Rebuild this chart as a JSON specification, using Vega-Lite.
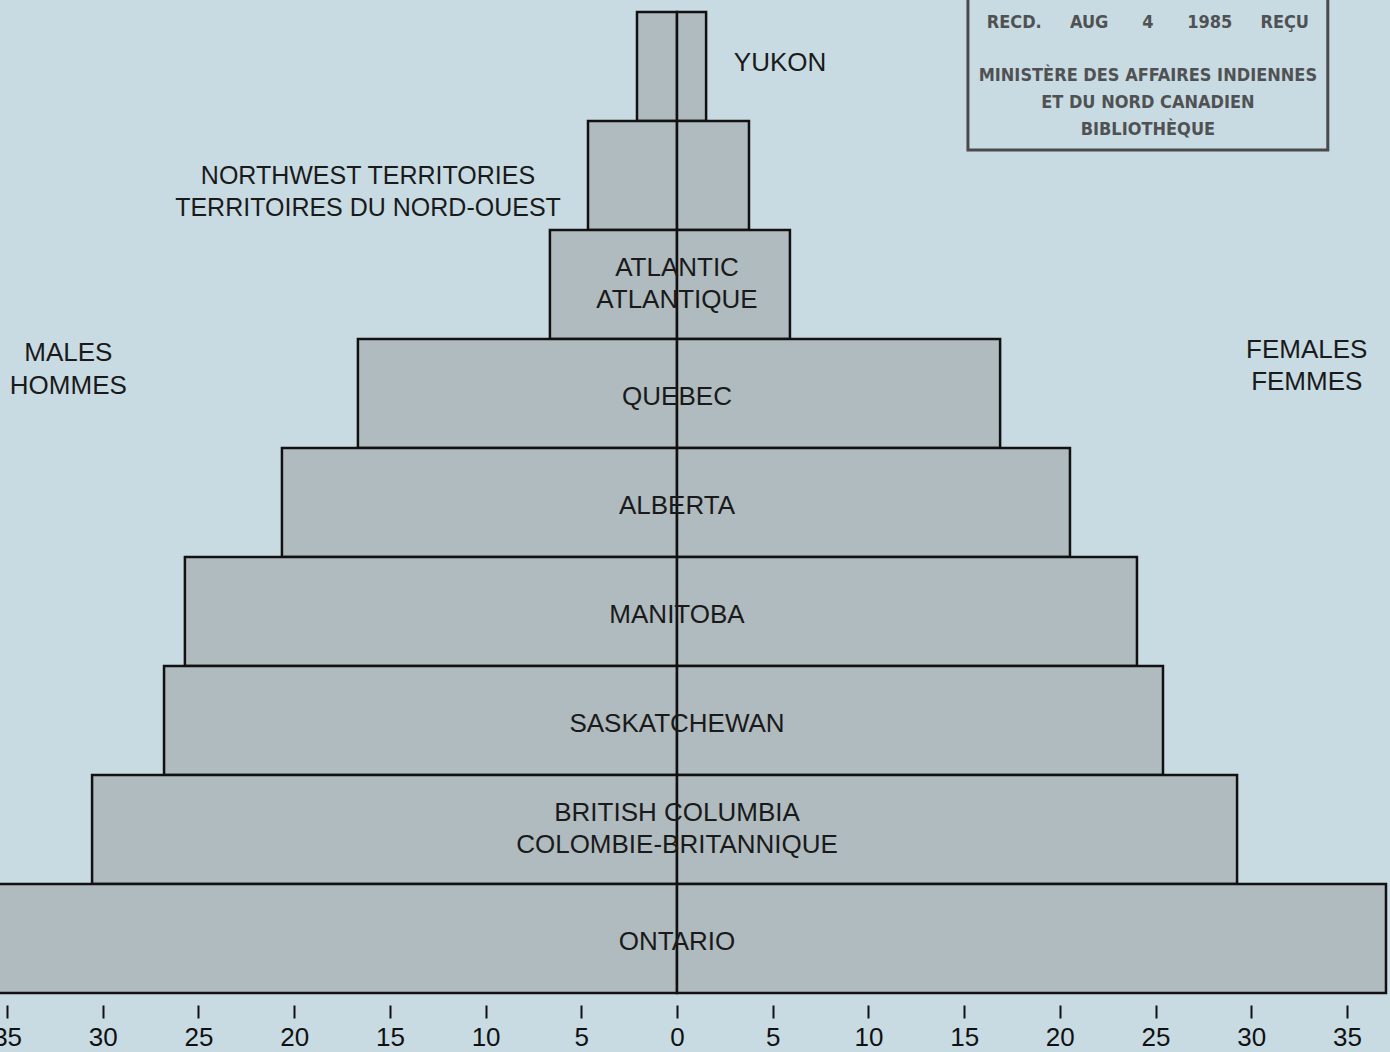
{
  "$schema": "https://vega.github.io/schema/vega-lite/v6.json",
  "width": 1390,
  "height": 981,
  "autosize": {"type": "none"},
  "padding": {"top": 12, "left": 0, "right": 0, "bottom": 59},
  "background": "#c8dbe3",
  "config": {"view": {"stroke": null}, "font": "Liberation Sans"},
  "datasets": {
    "pop": [
      {"region": "Yukon", "sex": "Males", "value": -2.09},
      {"region": "Yukon", "sex": "Females", "value": 1.52},
      {"region": "Northwest Territories", "sex": "Males", "value": -4.65},
      {"region": "Northwest Territories", "sex": "Females", "value": 3.76},
      {"region": "Atlantic", "sex": "Males", "value": -6.64},
      {"region": "Atlantic", "sex": "Females", "value": 5.9},
      {"region": "Quebec", "sex": "Males", "value": -16.67},
      {"region": "Quebec", "sex": "Females", "value": 16.88},
      {"region": "Alberta", "sex": "Males", "value": -20.64},
      {"region": "Alberta", "sex": "Females", "value": 20.53},
      {"region": "Manitoba", "sex": "Males", "value": -25.71},
      {"region": "Manitoba", "sex": "Females", "value": 24.03},
      {"region": "Saskatchewan", "sex": "Males", "value": -26.8},
      {"region": "Saskatchewan", "sex": "Females", "value": 25.39},
      {"region": "British Columbia", "sex": "Males", "value": -30.56},
      {"region": "British Columbia", "sex": "Females", "value": 29.26},
      {"region": "Ontario", "sex": "Males", "value": -36.0},
      {"region": "Ontario", "sex": "Females", "value": 37.04}
    ],
    "labels": [
      {"region": "Atlantic", "label": "ATLANTIC\nATLANTIQUE"},
      {"region": "Quebec", "label": "QUEBEC"},
      {"region": "Alberta", "label": "ALBERTA"},
      {"region": "Manitoba", "label": "MANITOBA"},
      {"region": "Saskatchewan", "label": "SASKATCHEWAN"},
      {"region": "British Columbia", "label": "BRITISH COLUMBIA\nCOLOMBIE-BRITANNIQUE"},
      {"region": "Ontario", "label": "ONTARIO"}
    ]
  },
  "encoding": {
    "y": {
      "field": "region",
      "type": "nominal",
      "sort": ["Yukon", "Northwest Territories", "Atlantic", "Quebec", "Alberta", "Manitoba", "Saskatchewan", "British Columbia", "Ontario"],
      "scale": {"paddingInner": 0, "paddingOuter": 0},
      "axis": null
    }
  },
  "layer": [
    {
      "data": {"name": "pop"},
      "mark": {"type": "bar", "fill": "#b0bbbf", "stroke": "#111111", "strokeWidth": 2.5, "clip": false},
      "encoding": {
        "x": {
          "field": "value",
          "type": "quantitative",
          "stack": null,
          "scale": {"domain": [-35.37, 37.25], "nice": false, "zero": false},
          "axis": {
            "values": [-35, -30, -25, -20, -15, -10, -5, 0, 5, 10, 15, 20, 25, 30, 35],
            "labelExpr": "abs(datum.value)",
            "title": null,
            "domain": false,
            "grid": false,
            "offset": 12,
            "tickSize": 13,
            "tickWidth": 2,
            "tickColor": "#111111",
            "labelFontSize": 26,
            "labelFont": "Liberation Sans",
            "labelColor": "#111111",
            "labelPadding": 6,
            "labelFlush": false,
            "labelOverlap": false
          }
        },
        "x2": {"datum": 0}
      }
    },
    {
      "data": {"name": "labels"},
      "transform": [{"filter": "indexof(datum.label, '\\n') < 0"}],
      "mark": {"type": "text", "align": "center", "baseline": "middle", "fontSize": 26, "color": "#1a1a1a", "dy": 3},
      "encoding": {
        "x": {"datum": 0, "type": "quantitative"},
        "text": {"field": "label"}
      }
    },
    {
      "data": {"name": "labels"},
      "transform": [{"filter": "indexof(datum.label, '\\n') >= 0"}],
      "mark": {"type": "text", "align": "center", "baseline": "middle", "lineBreak": "\n", "fontSize": 26, "lineHeight": 32, "color": "#1a1a1a", "dy": -17},
      "encoding": {
        "x": {"datum": 0, "type": "quantitative"},
        "text": {"field": "label"}
      }
    },
    {
      "data": {"name": "pop"},
      "transform": [{"filter": "datum.region === 'Yukon' && datum.sex === 'Females'"}],
      "mark": {"type": "text", "align": "center", "baseline": "middle", "fontSize": 26, "color": "#1a1a1a", "dx": 74, "dy": -4},
      "encoding": {
        "x": {"field": "value", "type": "quantitative"},
        "text": {"value": "YUKON"}
      }
    },
    {
      "data": {"name": "pop"},
      "transform": [{"filter": "datum.region === 'Northwest Territories' && datum.sex === 'Males'"}],
      "mark": {"type": "text", "align": "center", "baseline": "middle", "fontSize": 25, "lineHeight": 32, "color": "#1a1a1a", "dx": -220, "dy": 0},
      "encoding": {
        "x": {"field": "value", "type": "quantitative"},
        "text": {"value": ["NORTHWEST TERRITORIES", "TERRITOIRES DU NORD-OUEST"]}
      }
    },
    {
      "data": {"values": [{}]},
      "mark": {"type": "text", "align": "center", "baseline": "middle", "fontSize": 26, "lineHeight": 33, "color": "#1a1a1a", "dy": -40.5},
      "encoding": {
        "x": {"datum": -31.8, "type": "quantitative"},
        "y": {"datum": "Quebec"},
        "text": {"value": ["MALES", "HOMMES"]}
      }
    },
    {
      "data": {"values": [{}]},
      "mark": {"type": "text", "align": "center", "baseline": "middle", "fontSize": 26, "lineHeight": 32, "color": "#1a1a1a", "dy": -43.5},
      "encoding": {
        "x": {"datum": 32.9, "type": "quantitative"},
        "y": {"datum": "Quebec"},
        "text": {"value": ["FEMALES", "FEMMES"]}
      }
    },
    {
      "data": {"values": [{}]},
      "mark": {"type": "rect", "fill": "transparent", "stroke": "#4a4a4a", "strokeWidth": 3, "height": 153, "yOffset": 7, "clip": false},
      "encoding": {
        "x": {"datum": 15.2, "type": "quantitative"},
        "x2": {"datum": 34.0},
        "y": {"datum": "Yukon"}
      }
    },
    {
      "data": {"values": [{}]},
      "mark": {"type": "text", "align": "center", "baseline": "middle", "font": "DejaVu Sans Condensed", "fontWeight": "bold", "fontSize": 18, "color": "#3a3a3a", "opacity": 0.85, "dy": -43.5},
      "encoding": {
        "x": {"datum": 24.6, "type": "quantitative"},
        "y": {"datum": "Yukon"},
        "text": {"value": "RECD.\u00a0\u00a0\u00a0\u00a0\u00a0AUG\u00a0\u00a0\u00a0\u00a0\u00a0\u00a04\u00a0\u00a0\u00a0\u00a0\u00a0\u00a01985\u00a0\u00a0\u00a0\u00a0\u00a0REÇU"}
      }
    },
    {
      "data": {"values": [{}]},
      "mark": {"type": "text", "align": "center", "baseline": "middle", "font": "DejaVu Sans Condensed", "fontWeight": "bold", "fontSize": 18, "lineHeight": 27, "color": "#3a3a3a", "opacity": 0.85, "dy": 9.5},
      "encoding": {
        "x": {"datum": 24.6, "type": "quantitative"},
        "y": {"datum": "Yukon"},
        "text": {"value": ["MINISTÈRE DES AFFAIRES INDIENNES", "ET DU NORD CANADIEN", "BIBLIOTHÈQUE"]}
      }
    }
  ]
}
